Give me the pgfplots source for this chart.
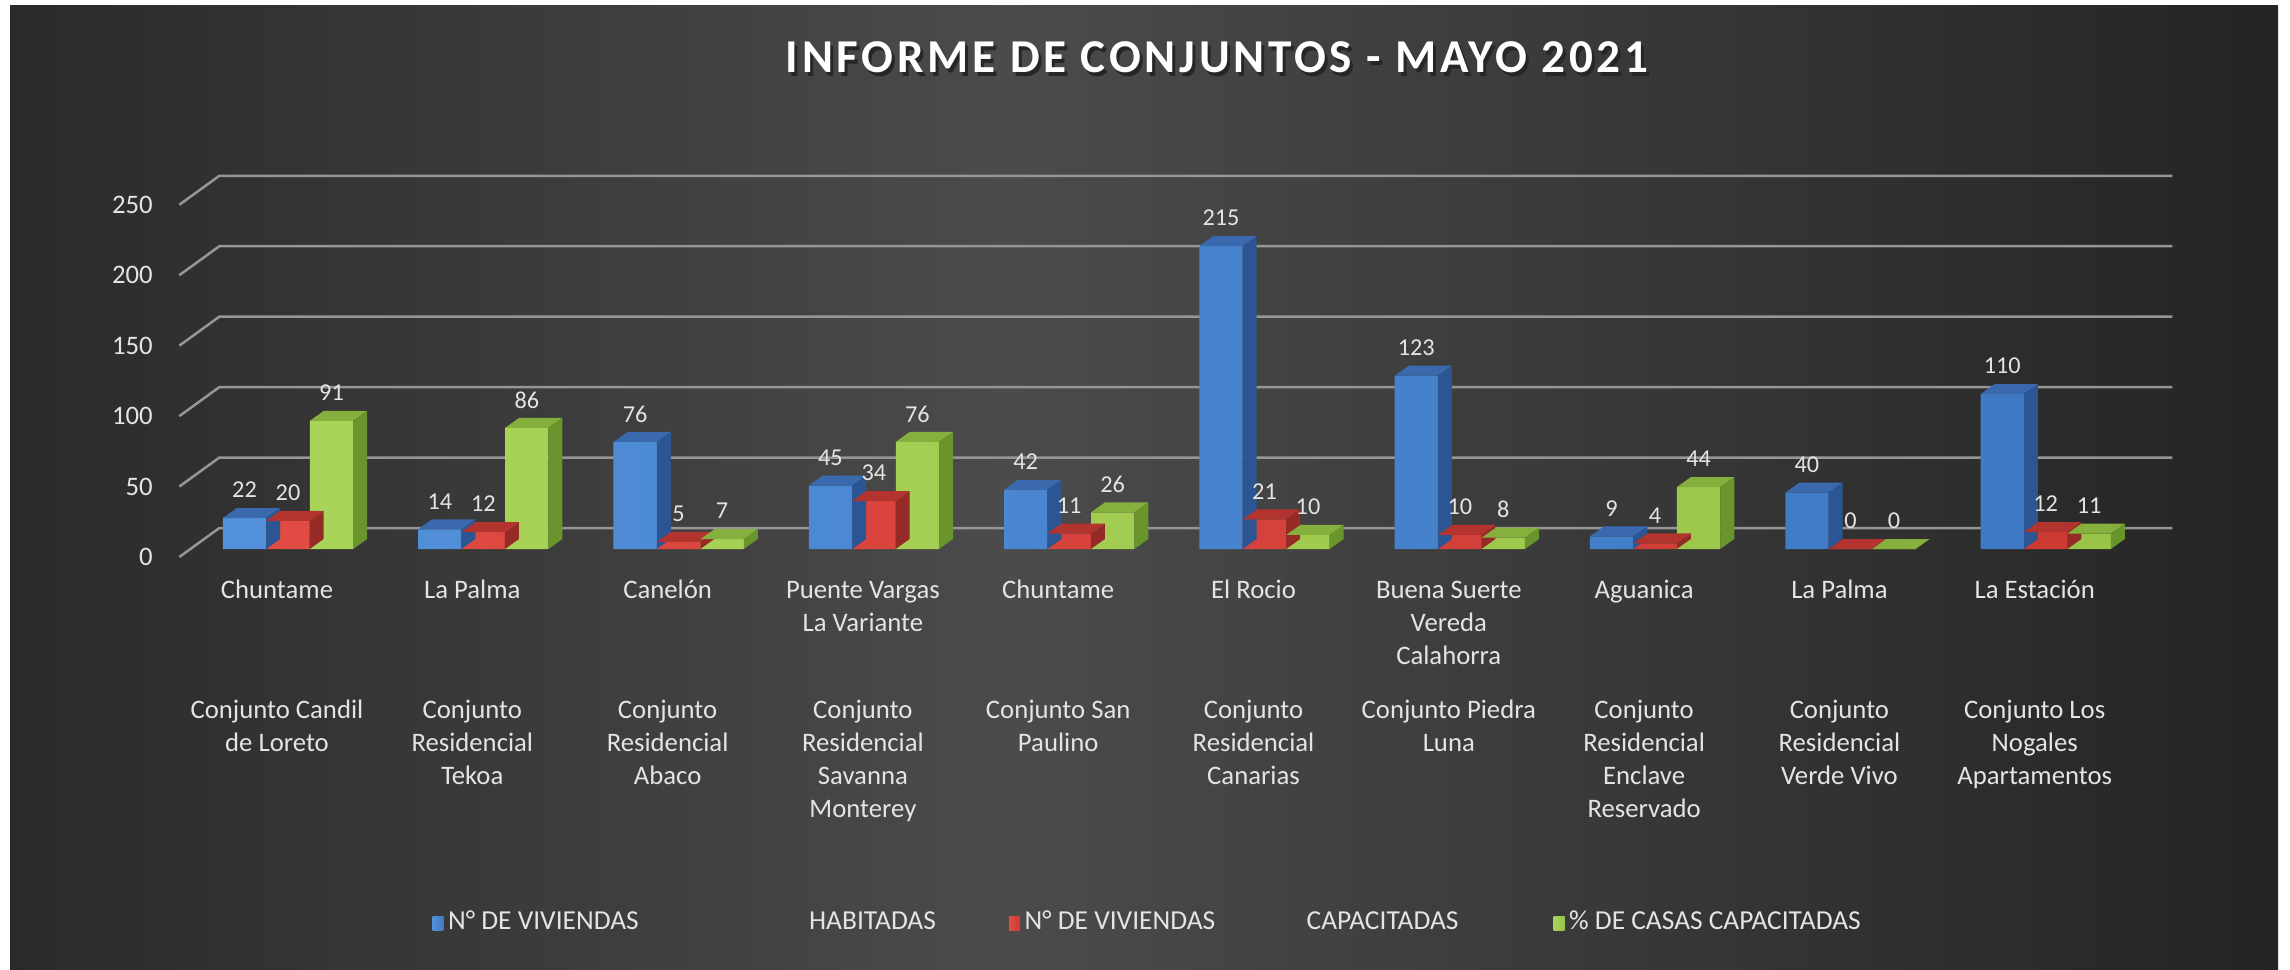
\documentclass[border=0pt]{standalone}
\usepackage{fontspec}
\setmainfont{Carlito}
\usepackage{pgfplots}
\pgfplotsset{compat=1.18}
\definecolor{bgL}{HTML}{2A2A2A}
\definecolor{bgM}{HTML}{4B4B4B}
\definecolor{bgR}{HTML}{242424}
\definecolor{lbl}{HTML}{E4E4E4}
\definecolor{gridc}{HTML}{969696}
\definecolor{blueL}{HTML}{5391DA}
\definecolor{blueR}{HTML}{3F79C4}
\definecolor{blueT}{HTML}{3A69AE}
\definecolor{blueS}{HTML}{2B5593}
\definecolor{redL}{HTML}{E04B43}
\definecolor{redR}{HTML}{CC3A34}
\definecolor{redT}{HTML}{B3342F}
\definecolor{redS}{HTML}{962A27}
\definecolor{greenL}{HTML}{AAD35A}
\definecolor{greenR}{HTML}{98C447}
\definecolor{greenT}{HTML}{86B03E}
\definecolor{greenS}{HTML}{6A952C}
\pgfdeclarehorizontalshading{bgshade}{100bp}{color(0bp)=(bgL); color(25bp)=(bgL); color(47bp)=(bgM); color(75bp)=(bgR); color(100bp)=(bgR)}
\pgfdeclareplotmark{nothing}{}
\newcommand\ticks{\fontsize{7.6pt}{9.4pt}\selectfont}
\newcommand\legfont{\fontsize{7.8pt}{9.4pt}\selectfont}
\newcommand\dlab{\fontsize{6.9pt}{8pt}\selectfont}
\newfontfamily\titlefam[LetterSpace=8]{Carlito}
\newcommand\ttl{\titlefam\bfseries\fontsize{13.4pt}{16pt}\selectfont}
\newcommand\ttltext{INFORME DE CONJUNTOS - MAYO 2021}
\pgfplotsset{
  /pgf/number format/assume math mode=true,
  faces/.style n args={3}{
    scatter, only marks, mark=nothing, forget plot, point meta=y,
    visualization depends on={rawy \as \rawy},
    scatter/@pre marker code/.code={%
      \pgfmathsetlengthmacro\hh{\rawy*0.1409mm}%
      \pgfpathmoveto{\pgfpoint{#1-2.165mm}{0pt}}%
      \pgfpathlineto{\pgfpoint{#1+2.165mm}{0pt}}%
      \pgfpathlineto{\pgfpoint{#1+3.565mm}{1mm}}%
      \pgfpathlineto{\pgfpoint{#1-0.765mm}{1mm}}%
      \pgfpathclose
      \pgfsetfillcolor{#2}\pgfusepath{fill}%
      \pgfpathmoveto{\pgfpoint{#1+2.165mm}{0pt}}%
      \pgfpathlineto{\pgfpoint{#1+3.565mm}{1mm}}%
      \pgfpathlineto{\pgfpoint{#1+3.565mm}{1mm-\hh}}%
      \pgfpathlineto{\pgfpoint{#1+2.165mm}{-\hh}}%
      \pgfpathclose
      \pgfsetfillcolor{#3}\pgfusepath{fill}%
    },
    scatter/@post marker code/.code={},
  },
  front/.style n args={3}{
    ybar, bar width=4.33mm, bar shift=#1, draw=none, left color=#2, right color=#3,
    nodes near coords,
    every node near coord/.append style={anchor=center, xshift=#1, yshift=2.8mm, font=\dlab, text=lbl, inner sep=0pt},
  },
}
\pgfplotstableread{
x hab cap pct
0 22 20 91
1 14 12 86
2 76 5 7
3 45 34 76
4 42 11 26
5 215 21 10
6 123 10 8
7 9 4 44
8 40 0 0
9 110 12 11
}\datatable
\begin{document}
\begin{tikzpicture}
\fill[white] (0,0) rectangle (229mm,96.9mm);
\shade[shading=bgshade] (1mm,0) rectangle (227.8mm,96.3mm);
\useasboundingbox (0,0) rectangle (229mm,96.9mm);
\begin{axis}[
  at={(19.035mm,42.0mm)}, anchor=south west,
  x=19.53mm, y=0.1409mm,
  xmin=-0.5, xmax=9.5, ymin=0, ymax=250,
  clip=false,
  axis line style={draw=none}, tick style={draw=none}, major tick length=0pt,
  ytick={0,50,...,250},
  yticklabel style={anchor=east, inner sep=0pt, xshift=-3.7mm, yshift=-0.8mm, text=lbl, font=\ticks},
  xtick={0,...,9},
  xticklabels={{\strut Chuntame},{\strut La Palma},{\strut Canelón},{\strut Puente Vargas\\La Variante},{\strut Chuntame},{\strut El Rocio},{\strut Buena Suerte\\Vereda\\Calahorra},{\strut Aguanica},{\strut La Palma},{\strut La Estación}},
  xticklabel style={anchor=north, inner sep=0pt, align=center, xshift=-1.1mm, yshift=-2.6mm, font=\ticks, text=lbl},
  extra x ticks={0,...,9},
  extra x tick labels={{\strut Conjunto Candil\\de Loreto},{\strut Conjunto\\Residencial\\Tekoa},{\strut Conjunto\\Residencial\\Abaco},{\strut Conjunto\\Residencial\\Savanna\\Monterey},{\strut Conjunto San\\Paulino},{\strut Conjunto\\Residencial\\Canarias},{\strut Conjunto Piedra\\Luna},{\strut Conjunto\\Residencial\\Enclave\\Reservado},{\strut Conjunto\\Residencial\\Verde Vivo},{\strut Conjunto Los\\Nogales\\Apartamentos}},
  extra x tick style={xticklabel style={yshift=-12mm}},
  title={\makebox[0pt][l]{\raisebox{-0.35mm}{\hspace*{0.3mm}\textcolor{black!85}{\ttltext}}}\ttltext},
  title style={at={(axis description cs:0.5257,1.331)}, anchor=center, font=\ttl, text=white},
  legend style={at={(axis description cs:0.1237,-1.0616)}, anchor=west, draw=none, fill=none, inner sep=0pt, font=\legfont, text=lbl, legend columns=3, nodes={inner sep=0pt}, /tikz/every odd column/.append style={column sep=0.45mm}, /tikz/every even column/.append style={column sep=0mm}},
  legend image code/.code={\fill[#1] (0mm,-0.8mm) rectangle (1.1mm,0.6mm);},
]
\pgfplotsinvokeforeach{0,50,100,150,200,250}{
  \draw[gridc, line width=0.25mm] ([xshift=-1.1mm,yshift=-0.8mm]axis cs:-0.5,#1) -- ([xshift=2.9mm,yshift=2.1mm]axis cs:-0.5,#1) -- ([xshift=2.9mm,yshift=2.1mm]axis cs:9.5,#1);
}
\addplot[front={-4.35mm}{blueL}{blueR}] table[x=x, y=hab] {\datatable};
\addlegendentry{\makebox[56.1mm][l]{\makebox[36.1mm][l]{N° DE VIVIENDAS}HABITADAS}}
\addplot[faces={-4.35mm}{blueT}{blueS}] table[x=x, y=hab] {\datatable};
\addplot[front={0mm}{redL}{redR}] table[x=x, y=cap] {\datatable};
\addlegendentry{\makebox[52.9mm][l]{\makebox[28.2mm][l]{N° DE VIVIENDAS}CAPACITADAS}}
\addplot[faces={0mm}{redT}{redS}] table[x=x, y=cap] {\datatable};
\addplot[front={4.35mm}{greenL}{greenR}] table[x=x, y=pct] {\datatable};
\addlegendentry{\% DE CASAS CAPACITADAS}
\addplot[faces={4.35mm}{greenT}{greenS}] table[x=x, y=pct] {\datatable};
\end{axis}
\end{tikzpicture}
\end{document}
